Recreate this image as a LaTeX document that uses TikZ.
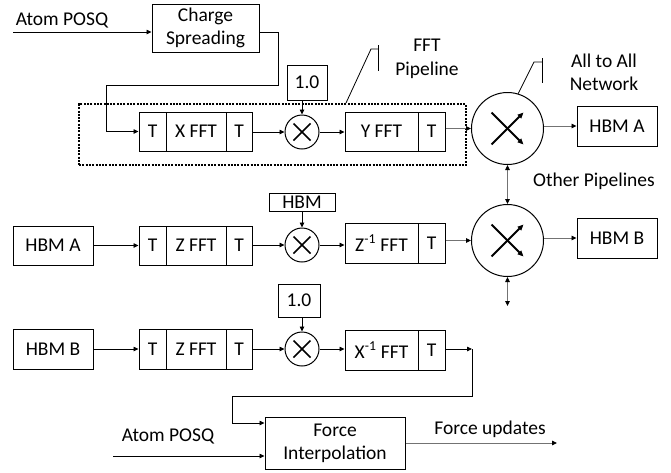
\documentclass[tikz,border=0pt]{standalone}
\usepackage{fontspec}
\setmainfont{Carlito}
\usetikzlibrary{arrows.meta,calc}
\begin{document}
\begin{tikzpicture}[x=1pt,y=-1pt,
  font=\fontsize{19.5}{23}\selectfont,
  box/.style={draw, line width=1pt, inner sep=0pt, minimum height=39pt, align=center},
  mult/.style={draw, circle, line width=1pt, minimum size=34pt, inner sep=0pt,
    path picture={
      \draw[line width=1.7pt] ([shift={(-8.5pt,-8.5pt)}]path picture bounding box.center) -- ([shift={(8.5pt,8.5pt)}]path picture bounding box.center);
      \draw[line width=1.7pt] ([shift={(-8.5pt,8.5pt)}]path picture bounding box.center) -- ([shift={(8.5pt,-8.5pt)}]path picture bounding box.center);}},
  net/.style={draw, circle, line width=1pt, minimum size=72pt, inner sep=0pt},
  arr/.style={-{Triangle[length=5pt,width=4.5pt]}, line width=0.8pt},
  garr/.style={-{Triangle[length=5pt,width=4.5pt,color=black]}, line width=0.9pt, draw=black!55},
  gdarr/.style={{Triangle[length=5pt,width=4.5pt,color=black]}-{Triangle[length=5pt,width=4.5pt,color=black]}, line width=0.9pt, draw=black!55},
  xarr/.style={-{Triangle[length=6pt,width=5pt]}, line width=1.8pt},
  lbl/.style={inner sep=0pt, align=center},
  fftbox/.style={draw, line width=2pt, dash pattern=on 2pt off 1.3pt}
]
\useasboundingbox (0,0) rectangle (671,472);

% ---------- Row 1 ----------
\node[lbl] (atom1) at (62,20) {Atom POSQ};
\coordinate (a1) at (13,32);
\node[box, minimum width=107pt, minimum height=48pt] (cs) at (205.5,28) {Charge\\Spreading};
\node[box, minimum width=40pt, minimum height=35pt] (one1) at (307,82.5) {1.0};
\node[fftbox, minimum width=387pt, minimum height=61pt, inner sep=0pt] (fft) at (272.5,134.5) {};
\node[box, minimum width=27pt] (t1a) at (152.5,131.5) {T};
\node[box, minimum width=60pt] (x1) at (196,131.5) {X FFT};
\node[box, minimum width=26pt] (t1b) at (239,131.5) {T};
\node[mult] (m1) at (302,132) {};
\node[box, minimum width=73pt] (y1) at (381.5,131.5) {Y FFT};
\node[box, minimum width=27pt] (t1c) at (431.5,131.5) {T};
\node[net] (net1) at (507.5,128.5) {};
\node[box, minimum width=80pt, minimum height=40pt] (hbmA1) at (617,126) {HBM A};
\node[lbl] (fftlbl) at (427,59) {FFT\\[1pt]Pipeline};
\node[lbl] (netlbl) at (604,72) {All to All\\Network};
\node[lbl] (other) at (594,181) {Other Pipelines};

\draw[arr] (a1) -- (cs.west |- a1);
\draw[arr] (cs.east |- a1) -- (278,32) -- (278,85) -- (106,85) -- (106,131.5) -- (t1a.west);
\draw[arr] (one1.south -| m1.north) -- (m1.north);
\draw[arr] (t1b.east |- m1.west) -- (m1.west);
\draw[arr] (m1.east) -- (y1.west |- m1.east);
\draw[garr] (t1c.east |- net1.west) -- (net1.west);
\draw[garr] (net1.east |- hbmA1.west) -- (hbmA1.west);
\draw[xarr] ([shift={(-16pt,16pt)}]net1.center) -- ([shift={(16pt,-16pt)}]net1.center);
\draw[xarr] ([shift={(-16pt,-16pt)}]net1.center) -- ([shift={(16pt,16pt)}]net1.center);

% callouts
\coordinate (fc1) at (371,49);
\coordinate (fc2) at (378,49);
\coordinate (fb1) at (378,45);
\coordinate (fb2) at (378,71);
\draw[line width=0.8pt] (fft.north west) ++(268,0) -- (fc1) -- (fc2);
\draw[line width=0.8pt] (fb1) -- (fb2);
\coordinate (nc1) at (534,62);
\coordinate (nc2) at (542,62);
\coordinate (nb1) at (542,58);
\coordinate (nb2) at (542,83);
\draw[line width=0.8pt] (net1.73) -- (nc1) -- (nc2);
\draw[line width=0.8pt] (nb1) -- (nb2);

% ---------- Row 2 ----------
\node[box, minimum width=80pt] (hbmA2) at (53,245.5) {HBM A};
\node[box, minimum width=27pt] (t2a) at (152.5,245.5) {T};
\node[box, minimum width=60pt] (z2) at (196,245.5) {Z FFT};
\node[box, minimum width=26pt] (t2b) at (239,245.5) {T};
\node[box, minimum width=66pt, minimum height=18pt] (hbm2) at (302,202) {HBM};
\node[mult] (m2) at (302,245) {};
\node[box, minimum width=73pt, minimum height=40pt] (zi2) at (381.5,243) {Z\textsuperscript{-1} FFT};
\node[box, minimum width=27pt, minimum height=40pt] (t2c) at (431.5,243) {T};
\node[net] (net2) at (507.5,240.5) {};
\node[box, minimum width=80pt, minimum height=40pt] (hbmB2) at (617,238) {HBM B};
\coordinate (down2) at (507.5,306);

\draw[arr] (hbmA2.east) -- (t2a.west);
\draw[arr] (hbm2.south -| m2.north) -- (m2.north);
\draw[arr] (t2b.east |- m2.west) -- (m2.west);
\draw[arr] (m2.east) -- (zi2.west |- m2.east);
\draw[garr] (t2c.east |- net2.west) -- (net2.west);
\draw[garr] (net2.east |- hbmB2.west) -- (hbmB2.west);
\draw[gdarr] (net1.south) -- (net2.north);
\draw[gdarr] (net2.south) -- (down2);
\draw[xarr] ([shift={(-16pt,16pt)}]net2.center) -- ([shift={(16pt,-16pt)}]net2.center);
\draw[xarr] ([shift={(-16pt,-16pt)}]net2.center) -- ([shift={(16pt,16pt)}]net2.center);

% ---------- Row 3 ----------
\node[box, minimum width=80pt, minimum height=40pt] (hbmB3) at (53,349) {HBM B};
\node[box, minimum width=27pt, minimum height=40pt] (t3a) at (152.5,349) {T};
\node[box, minimum width=60pt, minimum height=40pt] (z3) at (196,349) {Z FFT};
\node[box, minimum width=26pt, minimum height=40pt] (t3b) at (239,349) {T};
\node[box, minimum width=42pt, minimum height=33pt] (one3) at (299,300.5) {1.0};
\node[mult] (m3) at (302,349) {};
\node[box, minimum width=73pt, minimum height=40pt] (xi3) at (381.5,350) {X\textsuperscript{-1} FFT};
\node[box, minimum width=27pt, minimum height=40pt] (t3c) at (431.5,350) {T};
\coordinate (r3) at (472,349);

\draw[arr] (hbmB3.east) -- (t3a.west);
\draw[arr] (one3.south -| m3.north) -- (m3.north);
\draw[arr] (t3b.east |- m3.west) -- (m3.west);
\draw[arr] (m3.east) -- (xi3.west |- m3.east);
\draw[arr] (t3c.east |- r3) -- (r3);

% ---------- Force interpolation ----------
\node[box, minimum width=140pt, minimum height=52pt] (fi) at (335,443) {Force\\Interpolation};
\node[lbl] (atom2) at (168,436) {Atom POSQ};
\coordinate (a2) at (113,456);
\coordinate (fu) at (557,443);
\node[lbl] (fulbl) at (490,429) {Force updates};

\draw[arr] (r3) -- (472,396) -- (232,396) -- (232,423) -- (fi.west |- 0,423);
\draw[arr] (a2) -- (fi.west |- a2);
\draw[garr] (fi.east |- fu) -- (fu);
\end{tikzpicture}
\end{document}
